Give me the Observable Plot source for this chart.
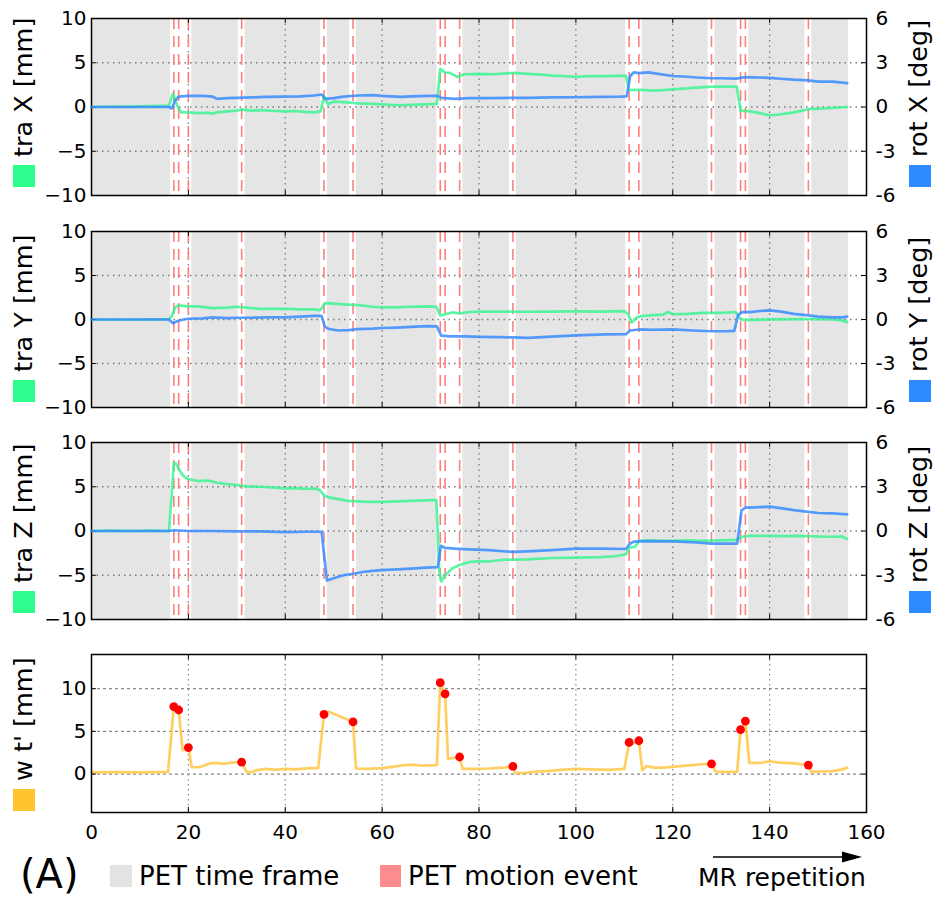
<!DOCTYPE html>
<html><head><meta charset="utf-8">
<script src="https://cdn.jsdelivr.net/npm/d3@7"></script>
<script src="https://cdn.jsdelivr.net/npm/@observablehq/plot@0.6"></script>
<style>
body{margin:0;background:#fff;font-family:"DejaVu Sans",sans-serif;}
#chart{position:relative;width:938px;height:900px;overflow:hidden;background:#fff;}
#chart svg{position:absolute;left:0;}
</style></head><body><div id="chart"></div>
<script>
// ---------- data ----------
const events = [17,18,20,31,48,54,72,73,76,87,111,113,128,134,135,148];
const eventW = [7.9,7.5,3.1,1.4,7.0,6.1,10.7,9.4,2.0,0.9,3.7,3.9,1.2,5.2,6.2,1.05];
const frameStart = [0,20.7,31.7,48.7,54.7,76.7,87.7,113.7,128.7,135.7,148.7];
const frameEnd   = [16.3,30.3,47.3,53.3,71.3,86.3,110.3,127.3,133.3,147.3,156.3];
const xTicks = [0,20,40,60,80,100,120,140,160];
const traTicks = [-10,-5,0,5,10];
const rotTicks = [-6,-3,0,3,6];
const wTicks = [0,5,10];

const traX_t = [0,4,8,12,16,16.8,17.6,18.5,20,22,24,25,26,28,30,31,33,35,38,40,42,44,46,47.3,48,48.8,50,52,55,58,60,63,66,69,71.3,72,73,74,75.5,76,77,80,83,87,90,93,95,97,100,103,106,110.3,111,113,116,118,120,123,125,128,131,133.2,134,136,138,140,142,145,148,150,153,156];
const traX   = [0,0.05,0.05,0.1,0.15,1.5,0.3,-0.6,-0.6,-0.7,-0.65,-0.75,-0.6,-0.5,-0.4,-0.3,-0.4,-0.35,-0.45,-0.5,-0.45,-0.55,-0.6,-0.5,1.2,0.3,0.6,0.55,0.4,0.35,0.3,0.2,0.25,0.3,0.35,4.3,3.9,3.85,3.4,3.5,3.7,3.75,3.7,3.85,3.75,3.65,3.55,3.5,3.4,3.5,3.5,3.55,1.9,1.95,1.85,1.9,2.0,2.1,2.2,2.3,2.3,2.3,-0.4,-0.5,-0.7,-0.95,-0.85,-0.6,-0.25,-0.2,-0.1,0.0];
const rotX_t = [0,8,16,16.6,17.2,18,20,23,25,26,28,30,33,36,40,43,46,47.5,48.3,50,52,55,58,60,62,64,66,70,71.5,72.2,75,78,82,87,90,95,100,105,109,110.5,111.2,112,113,115,117,120,123,125,128,130,133,135,138,140,143,145,148,150,153,156];
const rotX   = [0,0,0,-0.1,0.4,0.7,0.75,0.75,0.7,0.55,0.6,0.62,0.65,0.68,0.7,0.72,0.78,0.85,0.55,0.6,0.7,0.78,0.8,0.75,0.72,0.68,0.72,0.75,0.75,0.62,0.55,0.6,0.6,0.62,0.62,0.65,0.66,0.68,0.7,0.72,2.1,2.35,2.3,2.35,2.25,2.1,2.05,2.0,1.95,1.95,1.92,2.02,2.0,1.98,1.9,1.85,1.8,1.72,1.72,1.62];

const traY_t = [0,8,16,16.5,17.3,18,20,22,25,28,30,32,35,38,40,43,46,47.2,48.2,50,53,55,58,60,63,66,69,71.2,72,73,74.5,76,78,80,85,90,95,100,105,110,110.8,111.5,112.5,113.5,116,118,119,120,123,126,130,133,133.8,134.5,137,140,145,150,153,155,156];
const traY   = [0,0,0.05,0.3,1.4,1.6,1.5,1.5,1.3,1.35,1.45,1.35,1.2,1.2,1.22,1.15,1.15,1.05,1.85,1.8,1.7,1.65,1.45,1.4,1.38,1.45,1.5,1.45,0.45,0.6,0.8,0.7,0.85,0.9,0.9,0.88,0.9,0.92,0.9,0.95,0.6,-0.35,0.2,0.4,0.5,0.55,0.85,0.6,0.65,0.75,0.75,0.85,0.2,-0.05,-0.05,0.02,0.05,0.05,0.0,-0.1,-0.3];
const rotY_t = [0,8,16,16.8,17.8,19,20,23,25,28,30,33,36,40,43,46,47.5,48.2,49,51,53,55,58,60,63,66,69,71.3,72.2,74,77,80,84,87,90,93,96,100,103,106,110.3,111.2,113,116,120,124,128,131,132.7,133.5,134.3,136,138,140,142,145,148,150,153,155,156];
const rotY   = [0,0,0,-0.25,-0.1,0,0.05,0.08,0.15,0.1,0.12,0.12,0.14,0.15,0.2,0.25,0.25,-0.5,-0.65,-0.75,-0.72,-0.65,-0.62,-0.58,-0.55,-0.5,-0.45,-0.47,-1.1,-1.15,-1.15,-1.18,-1.2,-1.22,-1.25,-1.2,-1.15,-1.08,-1.05,-1.02,-1.0,-0.75,-0.68,-0.7,-0.68,-0.75,-0.8,-0.8,-0.78,0.3,0.5,0.5,0.58,0.62,0.55,0.38,0.28,0.2,0.15,0.15,0.2];

const traZ_t = [0,4,8,12,16,16.4,17,17.5,18,19,20,22,24,26,28,30,32,35,38,40,42,44,46,47.2,48,49,51,53,55,57,60,63,66,69,71.2,71.8,72.2,73,74.5,76,78,80,82,85,90,95,100,105,108,110.3,111,112.3,113,115,118,120,123,126,130,133.2,134.3,136,140,143,146,149,152,155,156];
const traZ   = [0,0.05,0,0.05,0,3.0,7.7,7.6,7.0,6.2,5.85,5.65,5.7,5.45,5.3,5.2,5.05,5.0,4.9,4.8,4.85,4.75,4.8,4.6,4.0,3.8,3.6,3.4,3.35,3.3,3.3,3.35,3.4,3.45,3.5,-4.5,-5.7,-5.0,-4.2,-3.85,-3.5,-3.4,-3.45,-3.25,-3.2,-3.05,-3.0,-2.95,-2.85,-2.65,-1.9,-1.75,-1.1,-1.05,-1.1,-1.1,-1.05,-1.1,-1.05,-1.0,-0.65,-0.55,-0.55,-0.58,-0.55,-0.6,-0.65,-0.62,-0.9];
const rotZ_t = [0,8,16,17,20,25,30,35,40,44,47.5,48.6,50,52,54,56,58,60,63,66,69,71.5,72.1,73,75,78,82,87,90,95,100,105,110.3,111.2,112,115,120,125,128,131,133.3,134.2,135,137,140,143,145,148,150,153,156];
const rotZ   = [0,0,0,0.05,0,0,-0.02,-0.03,-0.07,-0.05,-0.05,-3.35,-3.2,-3.0,-2.9,-2.78,-2.7,-2.65,-2.6,-2.55,-2.48,-2.45,-1.0,-1.15,-1.2,-1.25,-1.3,-1.42,-1.38,-1.3,-1.2,-1.2,-1.22,-0.85,-0.72,-0.68,-0.7,-0.78,-0.85,-0.85,-0.85,1.4,1.58,1.6,1.65,1.52,1.42,1.3,1.22,1.2,1.13];

const w_t = [0,5,10,15.8,17,18,18.8,20,20.7,22,23,24.5,26,27,29,31,32,33,34,36,38,40,42,45,46.8,48,49,54,54.6,57,60,62,64,66,68,71.3,72,73,73.6,75,76,76.6,79,82,85,87,87.5,89,91,94,97,100,103,107,110,111,112,113,113.7,114.6,116,118,121,124,126,128,128.8,131,133.3,134,135,135.8,138,140,142,145,148,148.6,151,153,155,156];
const w_v = [0.2,0.22,0.2,0.25,7.9,7.5,2.8,3.1,0.8,0.8,0.95,1.25,1.3,1.2,1.35,1.4,0.25,0.2,0.45,0.6,0.5,0.6,0.55,0.7,0.7,7.0,7.3,6.1,0.65,0.6,0.7,0.85,1.0,1.1,1.0,1.05,10.7,9.4,1.8,1.9,2.0,0.6,0.6,0.65,0.75,0.9,0.15,0.1,0.25,0.35,0.5,0.6,0.55,0.5,0.6,3.7,3.6,3.9,0.45,0.95,0.75,0.75,0.9,1.05,1.15,1.2,0.3,0.25,0.25,5.2,6.2,1.3,1.3,1.5,1.35,1.25,1.05,0.25,0.3,0.35,0.55,0.75];

// ---------- style ----------
const GREEN = "#33f58e", BLUE = "#3a8cff", ORANGE = "#ffc33a";
const SQ_GREEN = "#2efc8c", SQ_BLUE = "#2e8bff", SQ_ORANGE = "#ffc42e";
const W = 938, ML = 91, MR = 72, PAD = 15;
const FONT = {fontFamily: "DejaVu Sans", fontSize: "20px", overflow: "visible"};
const pts = (t, v) => t.map((x, i) => ({x, y: v[i]}));
const inner = xTicks.filter(d => d > 0 && d < 160);

const panels = [
  {top: 18, bottom: 195, tra: pts(traX_t, traX), rot: pts(rotX_t, rotX), traLabel: "tra X [mm]", rotLabel: "rot X [deg]", sq: 165},
  {top: 231, bottom: 407, tra: pts(traY_t, traY), rot: pts(rotY_t, rotY), traLabel: "tra Y [mm]", rotLabel: "rot Y [deg]", sq: 380},
  {top: 442, bottom: 619, tra: pts(traZ_t, traZ), rot: pts(rotZ_t, rotZ), traLabel: "tra Z [mm]", rotLabel: "rot Z [deg]", sq: 591}
];
const chart = document.getElementById("chart");
function place(svg, top) { svg.style.top = top + "px"; svg.style.left = "0px"; chart.appendChild(svg); }

const frames = frameStart.map((s, i) => ({x1: s, x2: frameEnd[i]}));

for (const p of panels) {
  const h = p.bottom - p.top + 2 * PAD;
  const left = Plot.plot({
    width: W, height: h, marginLeft: ML, marginRight: MR, marginTop: PAD, marginBottom: PAD,
    x: {domain: [0, 160], axis: null},
    y: {domain: [-10, 10], ticks: traTicks, tickSize: 0, tickPadding: 5, label: null},
    style: {...FONT, background: "white"},
    marks: [
      Plot.rect(frames, {x1: "x1", x2: "x2", y1: () => -10, y2: () => 10, fill: "#e5e5e5"}),
      Plot.ruleX(inner, {stroke: "#7a7a7a", strokeDasharray: "1.5,4", strokeWidth: 1.3}),
      Plot.ruleY([-5, 0, 5], {stroke: "#7a7a7a", strokeDasharray: "1.5,4", strokeWidth: 1.3}),
      Plot.ruleX(events, {stroke: "#ff7f7f", strokeDasharray: "11,7", strokeWidth: 1.6}),
      Plot.line(p.tra, {x: "x", y: "y", stroke: GREEN, strokeWidth: 2.7, strokeOpacity: 0.8}),
      Plot.ruleX(inner, {y1: () => -10, y2: () => -9.45, stroke: "black"}),
      Plot.ruleX(inner, {y1: () => 10, y2: () => 9.45, stroke: "black"}),
      Plot.ruleY([-5, 0, 5], {x1: () => 0, x2: () => 1, stroke: "black"}),
      Plot.frame({stroke: "black", strokeWidth: 1.5})
    ]
  });
  place(left, p.top - PAD);
  const right = Plot.plot({
    width: W, height: h, marginLeft: ML, marginRight: MR, marginTop: PAD, marginBottom: PAD,
    x: {domain: [0, 160], axis: null},
    y: {domain: [-6, 6], ticks: rotTicks, tickFormat: d => String(d), axis: "right", tickSize: 0, tickPadding: 9, label: null},
    style: {...FONT, background: "transparent"},
    marks: [
      Plot.line(p.rot, {x: "x", y: "y", stroke: BLUE, strokeWidth: 2.7, strokeOpacity: 0.85}),
      Plot.ruleY([-3, 0, 3], {x1: () => 160, x2: () => 159, stroke: "black"})
    ]
  });
  place(right, p.top - PAD);
}

// panel 4
{
  const top = 654, bottom = 812, mb = 45;
  const h = bottom - top + PAD + mb;
  const wData = pts(w_t, w_v);
  const dots = pts(events, eventW);
  const svg = Plot.plot({
    width: W, height: h, marginLeft: ML, marginRight: MR, marginTop: PAD, marginBottom: mb,
    x: {domain: [0, 160], ticks: xTicks, tickSize: 0, tickPadding: 12, label: null},
    y: {domain: [-4.5, 14], ticks: wTicks, tickSize: 0, tickPadding: 5, label: null},
    style: {...FONT, background: "transparent"},
    marks: [
      Plot.ruleX(inner, {stroke: "#8a8a8a", strokeDasharray: "1.5,3.5", strokeWidth: 1.2}),
      Plot.ruleY(wTicks, {stroke: "#8a8a8a", strokeDasharray: "3,3", strokeWidth: 1.2}),
      Plot.line(wData, {x: "x", y: "y", stroke: ORANGE, strokeWidth: 2.7, strokeOpacity: 0.8}),
      Plot.dot(dots, {x: "x", y: "y", r: 4.4, fill: "#ff0000"}),
      Plot.ruleX(inner, {y1: () => -4.5, y2: () => -3.9, stroke: "black"}),
      Plot.ruleX(inner, {y1: () => 14, y2: () => 13.4, stroke: "black"}),
      Plot.ruleY(wTicks, {x1: () => 0, x2: () => 1, stroke: "black"}),
      Plot.ruleY(wTicks, {x1: () => 160, x2: () => 159, stroke: "black"}),
      Plot.frame({stroke: "black", strokeWidth: 1.5})
    ]
  });
  place(svg, top - PAD);
}

// ---------- labels & legend overlay ----------
const ov = d3.select(chart).append("svg")
  .attr("width", W).attr("height", 900)
  .style("top", "0px").style("pointer-events", "none")
  .attr("font-family", "DejaVu Sans");

const sideLabels = panels.map(p => ({text: p.traLabel, sq: p.sq, x: 32, sx: 13, color: SQ_GREEN}))
  .concat(panels.map(p => ({text: p.rotLabel, sq: p.sq, x: 927, sx: 909, color: SQ_BLUE})))
  .concat([{text: "w t' [mm]", sq: 789, x: 32, sx: 13, color: SQ_ORANGE}]);
for (const s of sideLabels) {
  ov.append("rect").attr("x", s.sx).attr("y", s.sq).attr("width", 22).attr("height", 22).attr("fill", s.color);
  ov.append("text").attr("transform", `translate(${s.x},${s.sq - 8}) rotate(-90)`)
    .attr("font-size", 25.5).attr("fill", "black").text(s.text);
}

ov.append("text").attr("x", 20).attr("y", 888).attr("font-size", 40).text("(A)");
ov.append("rect").attr("x", 110).attr("y", 865).attr("width", 22).attr("height", 22).attr("fill", "#e3e3e3");
ov.append("text").attr("x", 139).attr("y", 885).attr("font-size", 26).text("PET time frame");
ov.append("rect").attr("x", 380).attr("y", 865).attr("width", 21).attr("height", 22).attr("fill", "#ff8c8c");
ov.append("text").attr("x", 408).attr("y", 885).attr("font-size", 26).text("PET motion event");
ov.append("line").attr("x1", 713).attr("x2", 846).attr("y1", 857).attr("y2", 857).attr("stroke", "black").attr("stroke-width", 1.5);
ov.append("path").attr("d", "M842,851.5L862,857L842,862.5Z").attr("fill", "black");
ov.append("text").attr("x", 698).attr("y", 886).attr("font-size", 25).text("MR repetition");
</script></body></html>
